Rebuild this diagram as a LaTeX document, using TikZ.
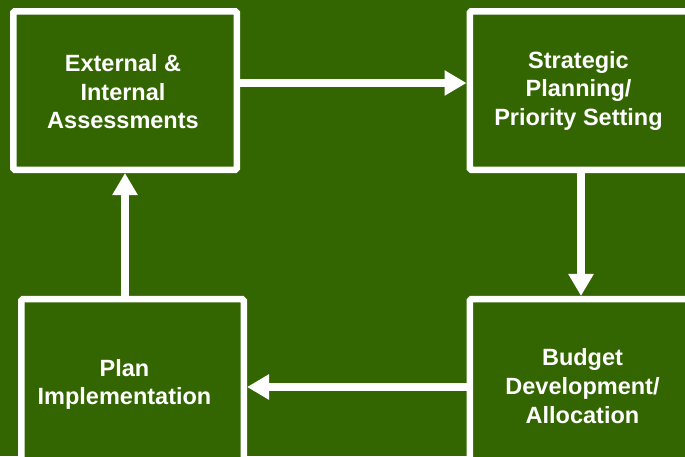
\documentclass[tikz,border=0pt]{standalone}
\usepackage{fontspec}
\setmainfont{Liberation Sans}
\usetikzlibrary{arrows.meta}
\definecolor{bggreen}{RGB}{51,102,0}
\tikzset{
  box/.style={draw=white, line width=6.5pt, rectangle, rounded corners=1.5pt, inner sep=0pt, fill=bggreen},
  lbl/.style={text=white, align=center, inner sep=0pt, font=\fontsize{23.5pt}{28.8pt}\selectfont\bfseries},
  arr/.style={draw=white, line width=7.5pt, -{Triangle[length=22pt,width=24pt]}}
}
\begin{document}
\begin{tikzpicture}[x=1pt,y=-1pt]
\fill[bggreen] (0,0) rectangle (685,456);
\useasboundingbox (0,0) rectangle (685,456);
\clip (0,0) rectangle (685,456);
\node[box, minimum width=223.5pt, minimum height=158.5pt] (A) at (125,90.5) {};
\node[box, minimum width=222.25pt, minimum height=158.5pt] (B) at (580.9,90.5) {};
\node[box, minimum width=222.5pt, minimum height=170.75pt] (C) at (132.5,384.6) {};
\node[box, minimum width=222.25pt, minimum height=170.75pt] (D) at (580.9,384.6) {};
\node[lbl] (tA) at (123,91.75) {External \&\\Internal\\Assessments};
\node[lbl] (tB) at (578.5,90.9) {Strategic\\Planning/\\Priority Setting};
\node[lbl] (tC) at (124.5,384.5) {Plan\\Implementation};
\node[lbl] (tD) at (582.5,385.8) {Budget\\Development/\\Allocation};
\draw[arr] (A.east |- 0,83) -- (B.west |- 0,83);
\draw[arr] (B.south -| 581,0) -- (D.north -| 581,0);
\draw[arr] (D.west |- 0,387) -- (C.east |- 0,387);
\draw[arr] (C.north -| 125,0) -- (A.south -| 125,0);
\end{tikzpicture}
\end{document}
